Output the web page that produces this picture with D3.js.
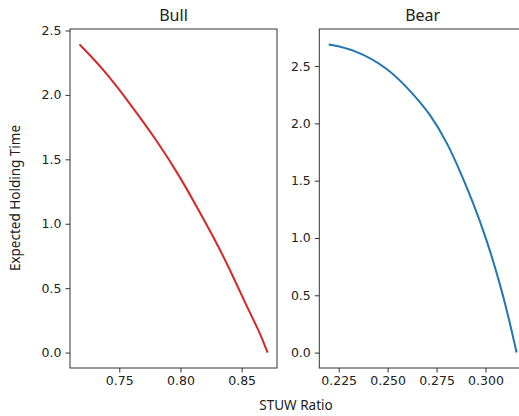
<!DOCTYPE html>
<html>
<head>
<meta charset="utf-8">
<script src="https://cdn.jsdelivr.net/npm/d3@7"></script>
<style>
  body { margin: 0; background: #fff; }
  svg { display: block; }
  .tick text { font-family: "DejaVu Sans", sans-serif; font-size: 12.5px; fill: #222; }
  .tick line { stroke: #333; }
  .lbl { font-family: "Noto Sans", "Open Sans", sans-serif; fill: #222; }
</style>
</head>
<body>
<div id="chart"></div>
<script>
// values
const bullX = [0.7174, 0.7372, 0.7590, 0.7807, 0.7997, 0.8133, 0.8269, 0.8405, 0.8541, 0.8649, 0.8712]
const bullY = [2.392, 2.199, 1.929, 1.646, 1.363, 1.131, 0.900, 0.643, 0.360, 0.154, 0.0]

const bearX = [0.2199, 0.2331, 0.2500, 0.2618, 0.2718, 0.2804, 0.2872, 0.2939, 0.3007, 0.3073, 0.3117, 0.3159]
const bearY = [2.689, 2.645, 2.486, 2.281, 2.082, 1.834, 1.576, 1.301, 0.982, 0.607, 0.318, 0.0]

const bullXTicks = [0.75, 0.80, 0.85]
const bearXTicks = [0.225, 0.250, 0.275, 0.300]
const yTicks = [0, 0.5, 1.0, 1.5, 2.0, 2.5]

const width = 519, height = 416
const plotTop = 29, plotBottom = 368

let svg = d3.select('#chart').append('svg')
.attr('width', width)
.attr('height', height)

const panels = [
  { title: 'Bull', xs: bullX, ys: bullY, xTicks: bullXTicks, fmt: '.2f', left: 70, right: 277, color: '#d62728' },
  { title: 'Bear', xs: bearX, ys: bearY, xTicks: bearXTicks, fmt: '.3f', left: 319.3, right: 526, color: '#1f77b4' }
]

panels.forEach(p => {
  // matplotlib style 5% margins
  let [x0, x1] = d3.extent(p.xs), [y0, y1] = d3.extent(p.ys)
  let dx = (x1 - x0) * 0.05, dy = (y1 - y0) * 0.05

  let x = d3.scaleLinear().domain([x0 - dx, x1 + dx]).range([p.left, p.right])
  let y = d3.scaleLinear().domain([y0 - dy, y1 + dy]).range([plotBottom, plotTop])

  let g = svg.append('g')

  g.append('g')
  .attr('transform', `translate(0,${plotBottom})`)
  .call(d3.axisBottom(x).tickValues(p.xTicks).tickFormat(d3.format(p.fmt)).tickSize(4.5).tickPadding(4))
  .call(a => a.select('.domain').remove())

  g.append('g')
  .attr('transform', `translate(${p.left},0)`)
  .call(d3.axisLeft(y).tickValues(yTicks).tickFormat(d3.format('.1f')).tickSize(4.5).tickPadding(4))
  .call(a => a.select('.domain').remove())

  g.append('path')
  .datum(p.xs.map((v, i) => [v, p.ys[i]]))
  .attr('d', d3.line().x(d => x(d[0])).y(d => y(d[1])).curve(d3.curveBasis))
  .style('fill', 'none')
  .style('stroke', p.color)
  .style('stroke-width', 2)

  g.append('rect')
  .attr('x', p.left).attr('y', plotTop)
  .attr('width', p.right - p.left).attr('height', plotBottom - plotTop)
  .style('fill', 'none')
  .style('stroke', '#333')
  .style('stroke-width', 1)

  g.append('text')
  .attr('class', 'lbl')
  .attr('x', (p.left + p.right) / 2)
  .attr('y', 21)
  .attr('text-anchor', 'middle')
  .style('font-size', '16px')
  .text(p.title)
})

svg.append('text')
.attr('class', 'lbl')
.attr('x', 296)
.attr('y', 410)
.attr('text-anchor', 'middle')
.style('font-size', '13.5px')
.text('STUW Ratio')

svg.append('text')
.attr('class', 'lbl')
.attr('transform', 'translate(20,198) rotate(-90)')
.attr('text-anchor', 'middle')
.style('font-size', '13.5px')
.text('Expected Holding Time')
</script>
</body>
</html>
